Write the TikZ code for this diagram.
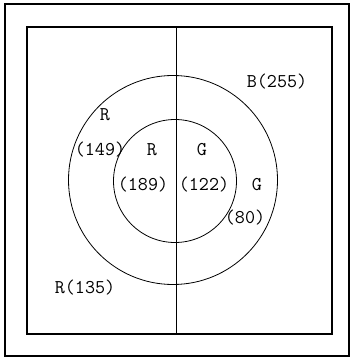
\documentclass[tikz,border=0pt]{standalone}
\begin{document}
\begin{tikzpicture}[x=1pt,y=-1pt,
  lbl/.style={font=\ttfamily\fontsize{19.5}{21}\selectfont, inner sep=0pt},
  frame/.style={line width=1.1pt},
  ring/.style={line width=0.8pt}]
\useasboundingbox (0,0) rectangle (351,358);
\draw[frame] (5,4) rectangle (349,356);
\draw[frame] (27,27) rectangle (332,334);
\coordinate (vtop) at (176,27);
\coordinate (vbot) at (176,334);
\draw[ring] (vtop) -- (vbot);
\draw[ring] (173,180) circle (104.5);
\draw[ring] (175,181) circle (61.5);
\node[lbl] (b255) at (277,82) {B(255)};
\node[lbl] (rout) at (105,115) {R};
\node[lbl] (r149) at (100,150) {(149)};
\node[lbl] (rin) at (152,150) {R};
\node[lbl] (gin) at (202,150) {G};
\node[lbl] (r189) at (143,185) {(189)};
\node[lbl] (g122) at (204,185) {(122)};
\node[lbl] (gout) at (257,185) {G};
\node[lbl] (g80) at (245,218) {(80)};
\node[lbl] (r135) at (85,288) {R(135)};
\end{tikzpicture}
\end{document}
